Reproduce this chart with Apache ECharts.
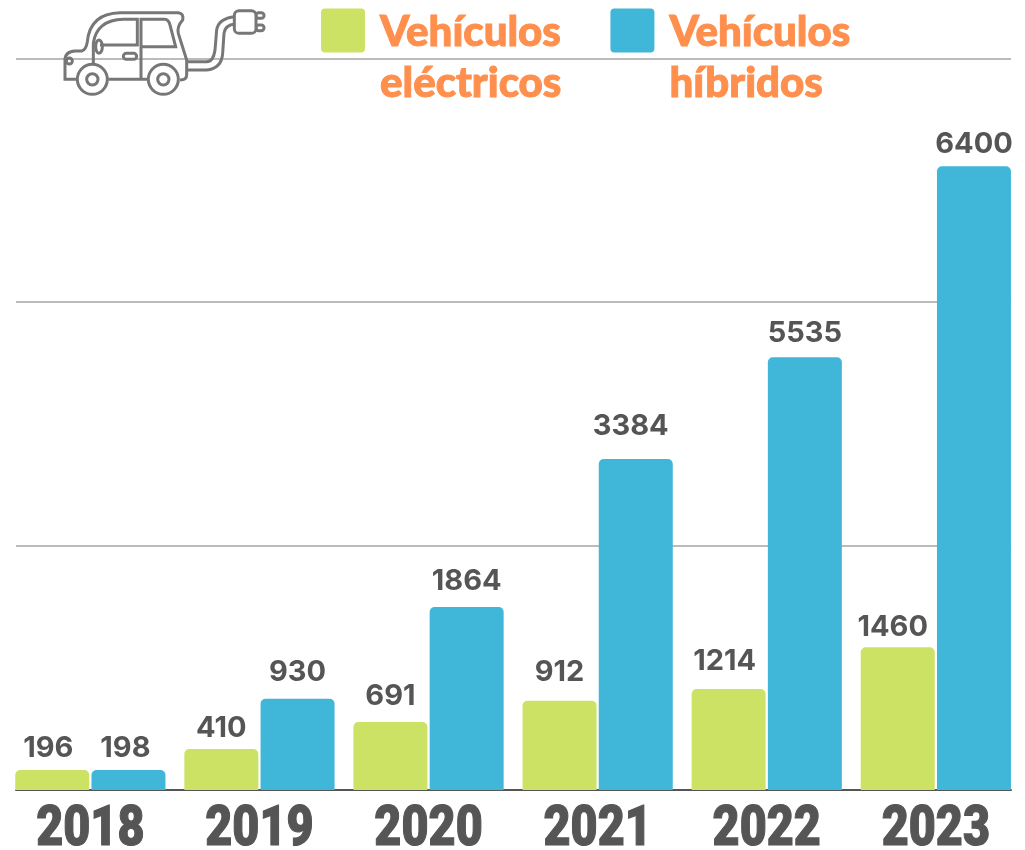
<!DOCTYPE html>
<html><head><meta charset="utf-8">
<style>html,body{margin:0;padding:0;background:#fff}#c{width:1025px;height:850px}</style>
<script src="https://cdn.jsdelivr.net/npm/echarts@6/dist/echarts.min.js"></script>
</head><body><div id="c"></div>
<script>
const years = ['2018','2019','2020','2021','2022','2023'];
// Printed labels, as shown in the picture
const electricLabels = [196,410,691,912,1214,1460];
const hybridLabels = [198,930,1864,3384,5535,6400];
// Bar heights read on the axis scale. The reference draws 1214 and 5535 shorter than their printed numbers.
const electricHeights = [205,420,698,915,1036,1465];
const hybridHeights = [205,935,1877,3395,4440,6400];
const seriesNames = ['Vehículos eléctricos','Vehículos híbridos'];
const gridTicks = {min:0,max:7500,interval:2500};

const chart = echarts.init(document.getElementById('c'));
const INK='#555555', ICON='#777777';
const carBody = 'M235 238L195 238L195 180Q195 155 225 153L245 153Q258 150 262 125Q270 40 360 38L535 38Q552 40 548 60Q530 80 535 100L560 180L560 225Q560 240 540 240M325 238L445 238M280 235L280 130Q290 60 370 58L412 58L412 135L300 135M423 235L423 58L495 58Q505 58 510 75L527 140L423 140M560 185L620 185Q640 185 645 150L650 90Q655 55 705 50M560 210L620 210Q665 205 668 160L672 100Q675 75 705 72';
const st={stroke:ICON,lineWidth:9,fill:'transparent'};
// hand placement of the printed numbers, which sit unevenly above the bars in the reference
const electricNudge=[[-4,-3],[0,-2],[0,-7],[0,-10],[-4,-9],[-5,-1]];
const hybridNudge=[[-3,-3],[0,-8],[0,-7],[-5,-14],[0,-5],[0,-3]];
function barData(heights,labels,nudge){
  return heights.map((v,i)=>({value:v,label:{formatter:String(labels[i]),offset:nudge[i]}}));
}
const barLabel={show:true,position:'top',distance:4,fontFamily:'Inter',fontWeight:700,fontSize:29,color:INK};
function renderIcon(){
  const thick={stroke:ICON,lineWidth:9,fill:'#fff'};
  return {type:'group',x:0,y:0,scaleX:1/3,scaleY:1/3,silent:true,children:[
    {type:'path',shape:{pathData:carBody},style:st},
    {type:'ellipse',shape:{cx:297,cy:140,rx:10,ry:20},style:st},
    {type:'circle',shape:{cx:208,cy:183,r:9},style:st},
    {type:'rect',shape:{x:370,y:160,width:40,height:18,r:9},style:st},
    {type:'circle',shape:{cx:277,cy:238,r:45},style:thick},
    {type:'circle',shape:{cx:277,cy:238,r:17},style:st},
    {type:'circle',shape:{cx:490,cy:238,r:45},style:thick},
    {type:'circle',shape:{cx:490,cy:238,r:17},style:st},
    {type:'rect',shape:{x:768,y:38,width:24,height:17,r:8},style:st},
    {type:'rect',shape:{x:768,y:75,width:24,height:17,r:8},style:st},
    {type:'rect',shape:{x:703,y:32,width:65,height:68,r:14},style:thick}
  ]};
}
function renderYear(params,api){
  const p=api.coord([api.value(0),0]);
  return {type:'text',x:p[0],y:p[1]+69,scaleX:0.85,silent:true,
    style:{text:years[api.value(0)],x:0,y:0,align:'center',verticalAlign:'bottom',fill:INK,
      stroke:INK,lineWidth:1.2,font:'900 55px Roboto'}};
}
chart.setOption({
  animation:false,
  backgroundColor:'#fff',
  grid:[{left:16,width:995,top:58.5,height:731,outerBoundsMode:'none'},{left:5.8,width:1014.6,top:59,height:731,outerBoundsMode:'none'}],
  xAxis:[
    {gridIndex:0,type:'value',min:0,max:1,axisLine:{show:true,lineStyle:{color:INK,width:2}},axisTick:{show:false},axisLabel:{show:false},splitLine:{show:false}},
    {gridIndex:1,type:'category',data:years,axisLine:{show:false},axisTick:{show:false},axisLabel:{show:false}}
  ],
  yAxis:[
    Object.assign({gridIndex:0,type:'value',axisLine:{show:false},axisTick:{show:false},axisLabel:{show:false},splitLine:{show:true,lineStyle:{color:'#bbbbbb',width:2}}},gridTicks),
    Object.assign({gridIndex:1,type:'value',show:false},gridTicks)
  ],
  legend:{left:321,top:-44,padding:0,orient:'horizontal',itemWidth:44,itemHeight:48,itemGap:0,icon:'path://M4 0H40Q44 0 44 4V40Q44 44 40 44H4Q0 44 0 40V4Q0 0 4 0ZM0 48L0 48',
    selectedMode:false,data:seriesNames,
    formatter:n=>'\n'+n.replace(' ','\n'),
    textStyle:{color:'#FF8F4D',fontFamily:'Lato',fontWeight:900,fontSize:42,lineHeight:51,padding:[0,49,0,10],textBorderColor:'#FF8F4D',textBorderWidth:1}},
  series:[
    {name:seriesNames[0],type:'bar',xAxisIndex:1,yAxisIndex:1,data:barData(electricHeights,electricLabels,electricNudge),barWidth:74,barGap:'3%',itemStyle:{color:'#CBE265',borderRadius:[5,5,0,0]},label:barLabel},
    {name:seriesNames[1],type:'bar',xAxisIndex:1,yAxisIndex:1,data:barData(hybridHeights,hybridLabels,hybridNudge),barWidth:74,itemStyle:{color:'#40B7D8',borderRadius:[5,5,0,0]},label:barLabel},
    {name:'years',type:'custom',xAxisIndex:1,yAxisIndex:1,data:years.map((y,i)=>[i]),encode:{x:0},renderItem:renderYear,clip:false,silent:true,z:5},
    {name:'icon',type:'custom',coordinateSystem:'none',data:[0],renderItem:renderIcon,silent:true,clip:false,z:5}
  ]
});
</script></body></html>
